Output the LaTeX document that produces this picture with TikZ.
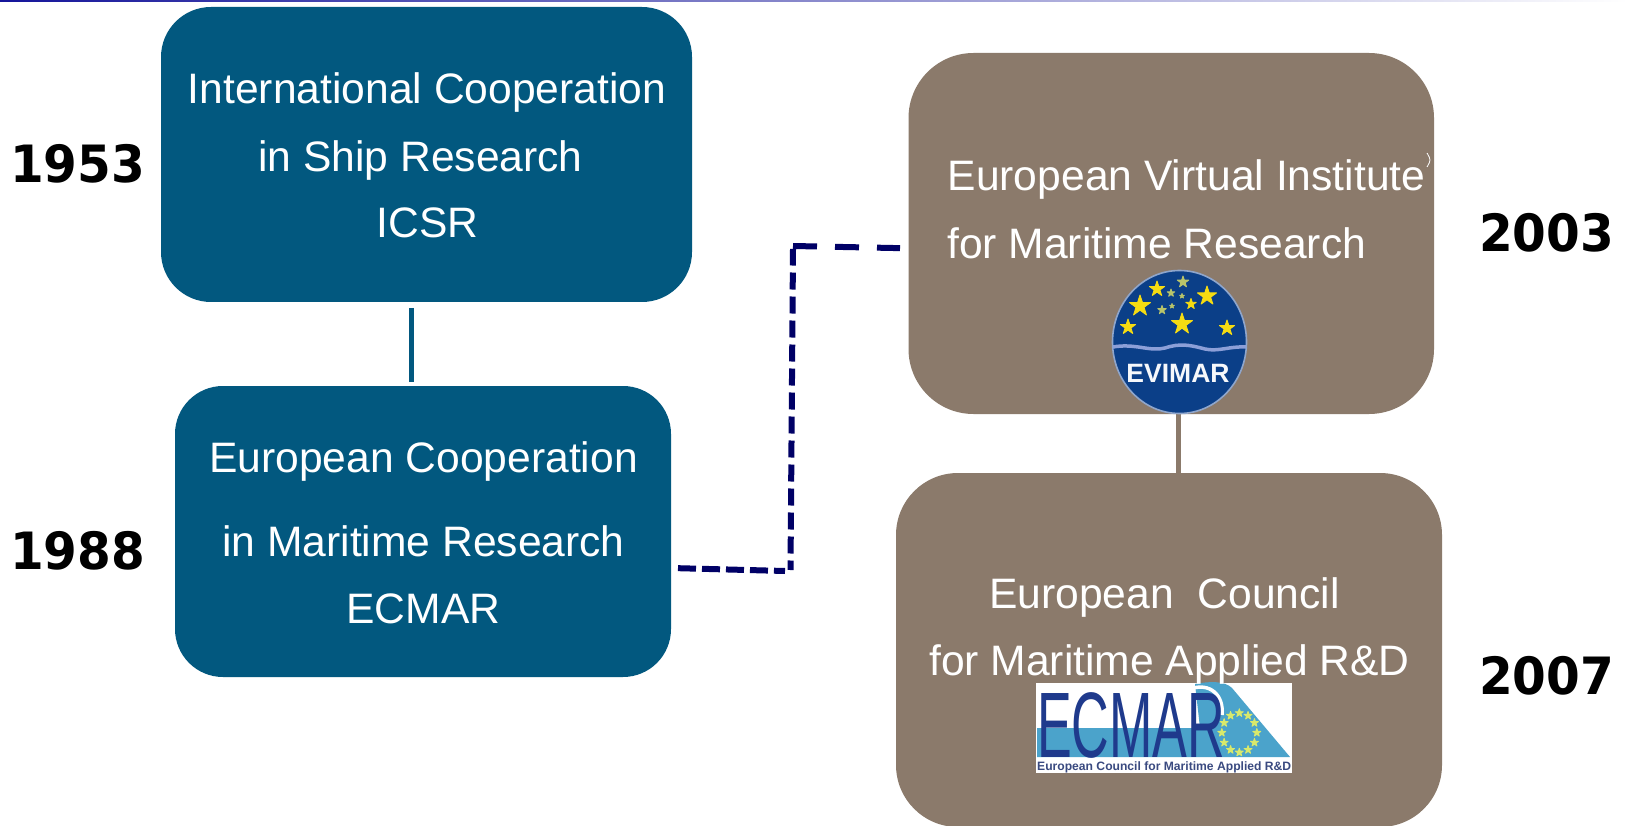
\documentclass[tikz,border=0pt]{standalone}
\usepackage{fontspec}
\setmainfont{Liberation Sans}
\newfontfamily\yearfont{DejaVu Sans}
\definecolor{boxblue}{HTML}{02587F}
\definecolor{boxbrown}{HTML}{8B7A6B}
\definecolor{dashnavy}{HTML}{000066}
\definecolor{topblue}{HTML}{15159A}
\definecolor{evinavy}{HTML}{0B3F88}
\definecolor{evirim}{HTML}{8FA6CC}
\definecolor{eviwave}{HTML}{8C9FD8}
\definecolor{evistar}{HTML}{F6DC12}
\definecolor{evipale}{HTML}{B9C46A}
\definecolor{ecmarblue}{HTML}{1F3A8C}
\definecolor{ecmarsea}{HTML}{4BA3CB}
\definecolor{ecmarstar}{HTML}{D8E96C}
\definecolor{ecmartext}{HTML}{3A4A80}
\tikzset{
  x=1pt,y=-1pt,
  rbox/.style={rounded corners=#1,inner sep=0pt,outer sep=0pt,anchor=north west},
  boxtext/.style={text=white,font=\fontsize{42.6}{50}\selectfont,inner sep=0pt,anchor=base},
  boxtextl/.style={boxtext,anchor=base west},
  yeartext/.style={text=black,font=\yearfont\bfseries\fontsize{48.5}{55}\selectfont,inner sep=0pt,anchor=base west},
  solidlink/.style={line width=5pt},
  dashlink/.style={draw=dashnavy,line width=6pt}
}
\newcommand{\logostar}[4]{\filldraw[fill=#4,draw=#4,line width=0.9pt,line join=round] (#1,#2) +(90:#3pt) -- +(234:#3pt) -- +(18:#3pt) -- +(162:#3pt) -- +(306:#3pt) -- cycle;}
\begin{document}
\begin{tikzpicture}
\useasboundingbox (0,0) rectangle (1628,826);
\fill[white] (0,0) rectangle (1628,826);
\shade[left color=topblue,right color=white] (0,0) rectangle (1628,1.6);

% boxes
\node[rbox=50pt,fill=boxblue,minimum width=531pt,minimum height=295pt] (icsr) at (161,7) {};
\node[rbox=48pt,fill=boxblue,minimum width=496pt,minimum height=291pt] (ecmarold) at (175,386) {};
\node[rbox=65pt,fill=boxbrown,minimum width=525.5pt,minimum height=361pt] (evimar) at (908.5,53) {};
\node[rbox=62pt,fill=boxbrown,minimum width=546pt,minimum height=354pt] (council) at (896,473) {};

% connectors
\coordinate (lx) at (411,0);
\coordinate (bx) at (1178,0);
\draw[boxblue,solidlink,shorten <=6pt,shorten >=4pt] (icsr.south -| lx) -- (ecmarold.north -| lx);
\draw[boxbrown,solidlink] (evimar.south -| bx) -- (council.north -| bx);

\coordinate (d1) at (671,568);
\coordinate (d2) at (785,571);
\coordinate (d3) at (790.5,570);
\coordinate (d4) at (793,249);
\coordinate (d5) at (793,246);
\coordinate (d6) at (908,248.3);
\draw[dashlink,dash pattern=on 18pt off 6pt,shorten <=7pt] (d1) -- (d2);
\draw[dashlink,dash pattern=on 17pt off 7pt,dash phase=7.5pt] (d3) -- (d4);
\draw[dashlink,dash pattern=on 24pt off 18pt,shorten >=8pt] (d5) -- (d6);

% EVIMAR logo
\draw[fill=evinavy,draw=evirim,line width=1.6pt] (1179.5,342) ellipse[x radius=67pt,y radius=71.5pt];
\foreach \sx/\sy/\sr/\sc in {1140/306/11/evistar,1157/289/8/evistar,1183/282/6/evipale,1207/296/10/evistar,1171/293/4/evipale,1182/296/2.5/evipale,1191/304/5.5/evistar,1162/310/4.5/evipale,1172/306/2.5/evipale,1182/324/11/evistar,1128/327/8/evistar,1227/328/8/evistar}
  {\logostar{\sx}{\sy}{\sr}{\sc}}
\draw[eviwave,line width=3.5pt] (1113,347) .. controls (1135,343) and (1150,352) .. (1165,348) .. controls (1180,343) and (1190,345) .. (1205,349) .. controls (1218,352) and (1230,346) .. (1246,347);
\node[text=white!92!evirim,font=\bfseries\fontsize{26.5}{30}\selectfont,inner sep=0pt,anchor=base] (evilabel) at (1178,382) {EVIMAR};

% ECMAR logo
\fill[white] (1036,683) rectangle (1292,773);
\fill[ecmarsea] (1037,728) -- (1200,728) -- (1195,684) .. controls (1210,681) and (1225,681) .. (1232,688) -- (1290,757) -- (1037,757) -- cycle;
\draw[white,line width=3.5pt] (1190,689) .. controls (1210,682) and (1224,695) .. (1222,715);
\node[text=ecmarblue,inner sep=0pt,anchor=base west] (bigecmar) at (1037,757) {\scalebox{0.56}[1]{\fontsize{93}{100}\selectfont ECMAR}};
\foreach \a in {0,30,...,330}
  {\pgfmathsetmacro{\px}{1239.3+17.5*cos(\a)}\pgfmathsetmacro{\py}{732.7+19.7*sin(\a)}\logostar{\px}{\py}{4.2}{ecmarstar}}
\node[text=ecmartext,inner sep=0pt,anchor=base west] (smallecmar) at (1037,770) {\resizebox{254pt}{!}{\bfseries European Council for Maritime Applied R\&D}};

% box texts
\node[boxtext] (t1) at (427,104) {International Cooperation};
\node[boxtext] (t2) at (420.5,171.5) {in Ship Research};
\node[boxtext] (t3) at (427.5,238) {ICSR};
\node[boxtext] (t4) at (423.5,472) {European Cooperation};
\node[boxtext] (t5) at (423.5,556) {in Maritime Research};
\node[boxtext] (t6) at (423.5,623) {ECMAR};
\node[boxtextl] (t7) at (947.5,191) {European Virtual Institute};
\draw[white,line width=.8pt] (1427,153) .. controls (1431,160) .. (1427,167);
\node[boxtextl] (t8) at (947,259) {for Maritime Research};
\node[boxtext] (t9) at (1164.5,608) {European\ \ Council};
\node[boxtext] (t10) at (1169.5,675) {for Maritime Applied R\&D};

% years
\node[yeartext] (y1) at (10,183) {\scalebox{1}[1.06]{1953}};
\node[yeartext] (y2) at (10,569) {\scalebox{1}[1.06]{1988}};
\node[yeartext] (y3) at (1479,252) {\scalebox{1}[1.06]{2003}};
\node[yeartext] (y4) at (1479,694) {\scalebox{1}[1.06]{2007}};
\end{tikzpicture}
\end{document}
